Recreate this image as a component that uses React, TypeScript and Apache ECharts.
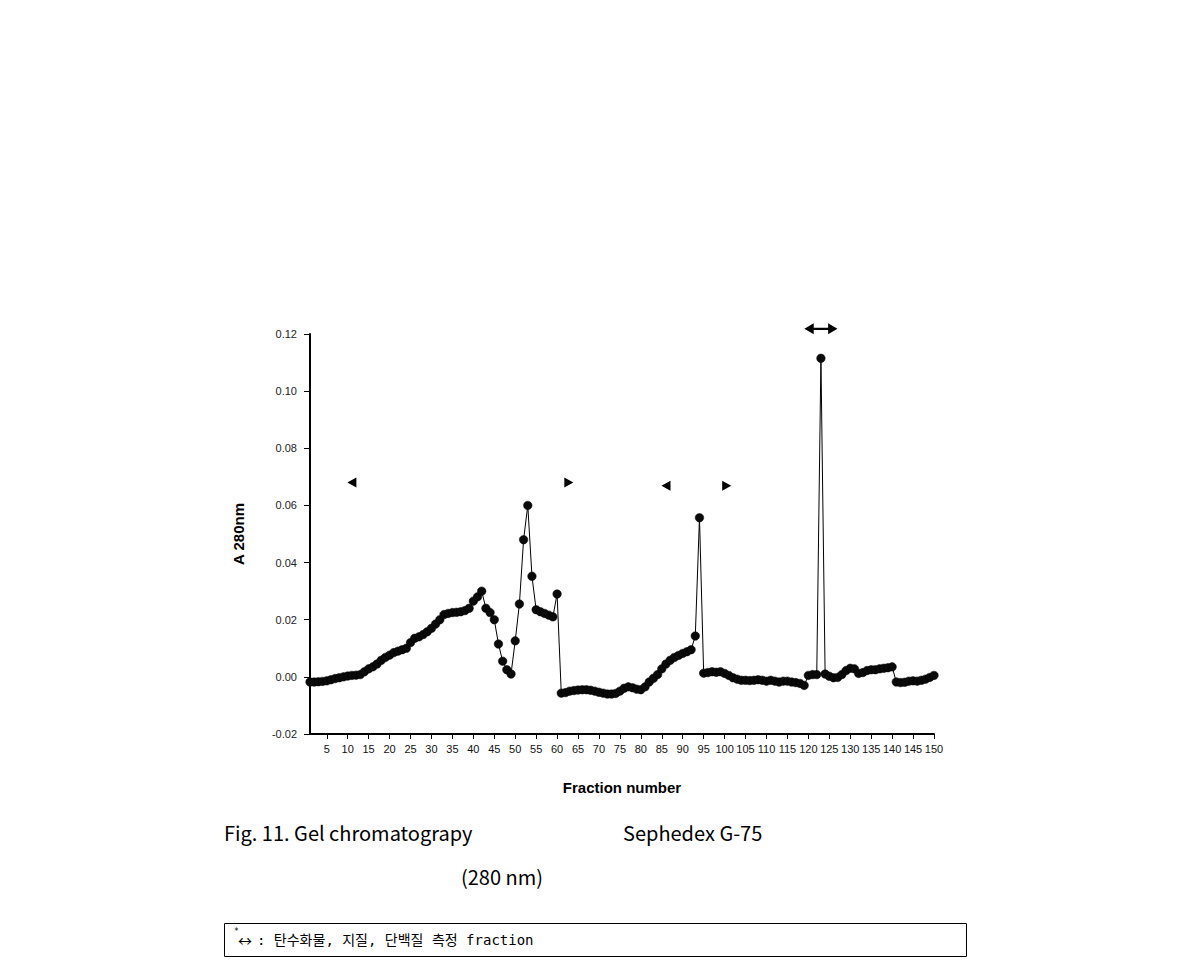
import React, { useEffect, useRef } from "react";
import * as echarts from "echarts";

// Fraction numbers (x) and absorbance at 280 nm (y)
const absorbance1to50 = [
  -0.0018, -0.0018, -0.0017, -0.0016, -0.0014, -0.001, -0.0006, -0.0003, 0.0, 0.0003,
  0.0005, 0.0006, 0.0008, 0.0018, 0.0028, 0.0035, 0.0045, 0.0058, 0.0068, 0.0076,
  0.0085, 0.009, 0.0095, 0.01, 0.012, 0.0135, 0.014, 0.0148, 0.0158, 0.017,
  0.0185, 0.02, 0.0218, 0.0222, 0.0225, 0.0226, 0.0228, 0.0232, 0.024, 0.0265,
  0.028, 0.03, 0.024, 0.0225, 0.02, 0.0115, 0.0055, 0.0025, 0.001, 0.0126,
];
const absorbance51to100 = [
  0.0255, 0.048, 0.06, 0.0352, 0.0235, 0.0228, 0.0222, 0.0216, 0.021, 0.029,
  -0.0057, -0.0055, -0.005, -0.0048, -0.0046, -0.0045, -0.0045, -0.0047, -0.005, -0.0054,
  -0.0057, -0.006, -0.006, -0.0058, -0.005, -0.004, -0.0035, -0.0038, -0.0043, -0.0045,
  -0.0035, -0.0018, -0.0005, 0.0008, 0.0028, 0.0045, 0.0058, 0.0068, 0.0075, 0.0082,
  0.0088, 0.0095, 0.0143, 0.0557, 0.0013, 0.0015, 0.0018, 0.0016, 0.0018, 0.0012,
];
const absorbance101to150 = [
  0.0005, -0.0003, -0.0008, -0.0012, -0.0012, -0.0013, -0.0012, -0.001, -0.0012, -0.0015,
  -0.0012, -0.0015, -0.0018, -0.0015, -0.0015, -0.0018, -0.002, -0.0023, -0.003, 0.0005,
  0.0008, 0.0008, 0.1115, 0.001, 0.0002, -0.0003, -0.0002, 0.0008, 0.0022, 0.003,
  0.0028, 0.0012, 0.0015, 0.0022, 0.0025, 0.0025, 0.0028, 0.003, 0.0032, 0.0035,
  -0.0018, -0.002, -0.0019, -0.0015, -0.0014, -0.0015, -0.0012, -0.0008, -0.0002, 0.0005,
];
const absorbance = [...absorbance1to50, ...absorbance51to100, ...absorbance101to150];
const fractions = absorbance.map((_, i) => i + 1);

const xTickLabels = [5, 10, 15, 20, 25, 30, 35, 40, 45, 50, 55, 60, 65, 70, 75, 80, 85, 90, 95, 100,
  105, 110, 115, 120, 125, 130, 135, 140, 145, 150];

// Pooled-fraction markers (triangles) and the measured fraction (double arrow)
const leftMarkFractions = [11, 86];
const leftMarkValues = [0.068, 0.0669];
const rightMarkFractions = [62.8, 100.5];
const rightMarkValues = [0.068, 0.0669];
const doubleArrowFraction = [123];
const doubleArrowValue = [0.1218];

const LEFT_TRI = "path://M10,0 L10,10 L0,5 Z";
const RIGHT_TRI = "path://M0,0 L10,5 L0,10 Z";
const DOUBLE_ARROW = "path://M0,5 L9,0 L9,4 L23,4 L23,0 L32,5 L23,10 L23,6 L9,6 L9,10 Z";

export default function App() {
  const ref = useRef<HTMLDivElement>(null);

  useEffect(() => {
    if (!ref.current) return;
    const chart = echarts.init(ref.current, null, { renderer: "svg" });
    const axisFont = "'Liberation Sans Narrow', 'Liberation Sans', Arial, sans-serif";
    const captionFont = "'Noto Sans CJK KR', 'Noto Sans', sans-serif";
    const monoFont = "'DejaVu Sans Mono', 'Noto Sans CJK KR', monospace";

    chart.setOption({
      animation: false,
      backgroundColor: "#ffffff",
      grid: { left: 310, top: 334, width: 624, height: 400, containLabel: false },
      xAxis: {
        type: "value",
        min: 1,
        max: 150,
        name: "Fraction number",
        nameLocation: "middle",
        nameGap: 46,
        nameTextStyle: { fontFamily: "'Liberation Sans', Arial, sans-serif", fontWeight: "bold", fontSize: 15, color: "#000" },
        axisLine: { onZero: false, lineStyle: { color: "#000", width: 2 } },
        axisTick: { show: true, length: 5, customValues: xTickLabels, lineStyle: { color: "#000", width: 1 } },
        axisLabel: { customValues: xTickLabels, fontSize: 11, fontFamily: axisFont, color: "#111", margin: 9 },
        splitLine: { show: false },
      },
      yAxis: {
        type: "value",
        min: -0.02,
        max: 0.12,
        interval: 0.02,
        name: "A 280nm",
        nameLocation: "middle",
        nameRotate: 90,
        nameGap: 64,
        nameTextStyle: { fontFamily: "'Liberation Sans', Arial, sans-serif", fontWeight: "bold", fontSize: 15, color: "#000" },
        axisLine: { show: true, onZero: false, lineStyle: { color: "#000", width: 2 } },
        axisTick: { show: true, length: 6, lineStyle: { color: "#000", width: 1 } },
        axisLabel: {
          fontSize: 11,
          fontFamily: "'Liberation Sans', Arial, sans-serif",
          color: "#222",
          margin: 13,
          formatter: (v: number) => v.toFixed(2),
        },
        splitLine: { show: false },
      },
      series: [
        {
          type: "line",
          data: fractions.map((f, i) => [f, absorbance[i]]),
          symbol: "circle",
          symbolSize: 8.5,
          showSymbol: true,
          lineStyle: { color: "#000", width: 1 },
          itemStyle: { color: "#0a0a0a", borderColor: "#000", borderWidth: 0.5, opacity: 1 },
          emphasis: { disabled: true },
          clip: false,
        },
        {
          type: "scatter",
          data: leftMarkFractions.map((f, i) => [f, leftMarkValues[i]]),
          symbol: LEFT_TRI,
          symbolSize: [9, 10],
          itemStyle: { color: "#000", opacity: 1 },
          emphasis: { disabled: true },
          clip: false,
        },
        {
          type: "scatter",
          data: rightMarkFractions.map((f, i) => [f, rightMarkValues[i]]),
          symbol: RIGHT_TRI,
          symbolSize: [9, 10],
          itemStyle: { color: "#000", opacity: 1 },
          emphasis: { disabled: true },
          clip: false,
        },
        {
          type: "scatter",
          data: doubleArrowFraction.map((f, i) => [f, doubleArrowValue[i]]),
          symbol: DOUBLE_ARROW,
          symbolSize: [33, 11],
          itemStyle: { color: "#000", opacity: 1 },
          emphasis: { disabled: true },
          clip: false,
        },
      ],
      graphic: [
        {
          type: "text",
          x: 224,
          y: 832,
          style: { text: "Fig. 11. Gel chromatograpy", fontSize: 20, fontFamily: captionFont, fill: "#000", align: "left", verticalAlign: "middle" },
        },
        {
          type: "text",
          x: 623,
          y: 832,
          style: { text: "Sephedex G-75", fontSize: 20, fontFamily: captionFont, fill: "#000", align: "left", verticalAlign: "middle" },
        },
        {
          type: "text",
          x: 461,
          y: 876,
          style: { text: "(280 nm)", fontSize: 20, fontFamily: captionFont, fill: "#000", align: "left", verticalAlign: "middle" },
        },
        {
          type: "rect",
          shape: { x: 224.5, y: 923.5, width: 742, height: 33 },
          style: { fill: "none", stroke: "#000", lineWidth: 1 },
        },
        {
          type: "text",
          x: 234,
          y: 931,
          style: { text: "*", fontSize: 8, fontFamily: "'DejaVu Sans Mono', monospace", fill: "#000", align: "left", verticalAlign: "middle" },
        },
        {
          type: "text",
          x: 238,
          y: 940,
          style: { text: "↔", fontSize: 14, fontFamily: "'Noto Sans CJK KR', sans-serif", fill: "#000", align: "left", verticalAlign: "middle" },
        },
        {
          type: "text",
          x: 257,
          y: 940,
          style: {
            text: ": 탄수화물, 지질, 단백질 측정 fraction",
            fontSize: 14,
            fontFamily: monoFont,
            fill: "#000",
            align: "left",
            verticalAlign: "middle",
          },
        },
      ],
    });

    return () => chart.dispose();
  }, []);

  return (
    <div
      ref={ref}
      style={{ position: "absolute", left: 0, top: 0, width: 1190, height: 963, background: "#fff" }}
    />
  );
}
